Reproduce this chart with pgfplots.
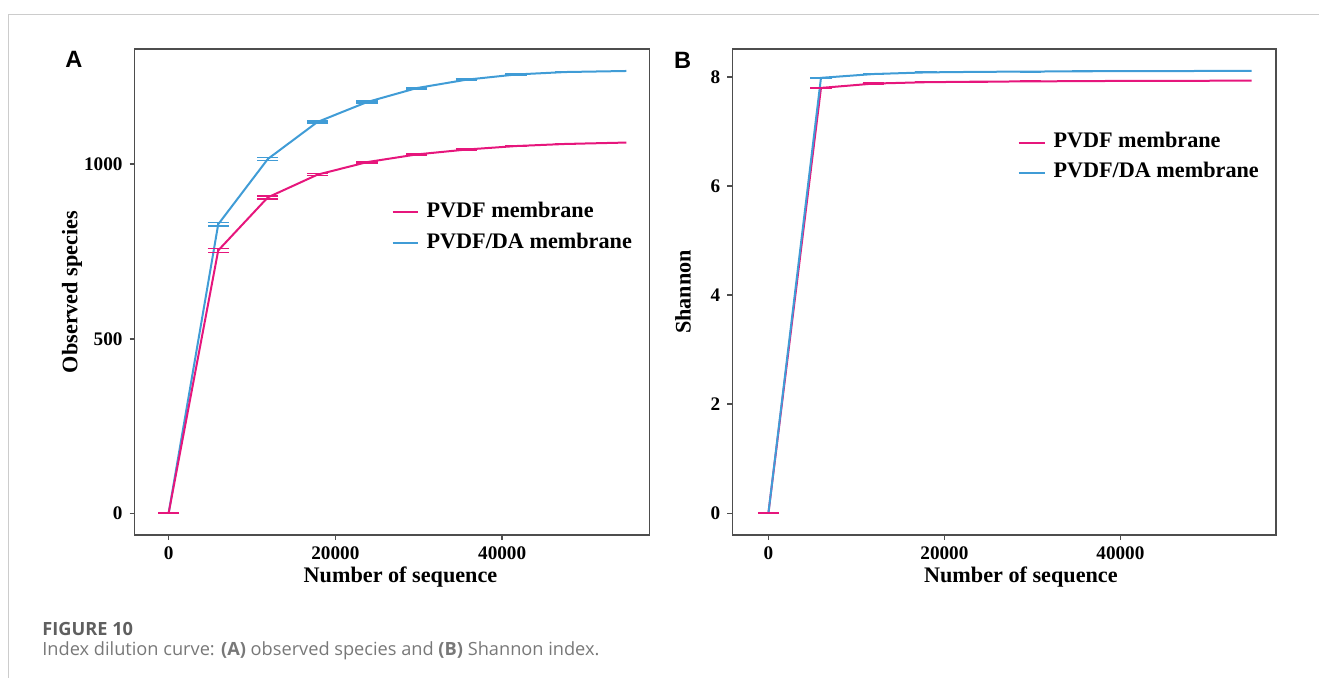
\documentclass[border=0pt]{standalone}
\usepackage{pgfplots}
\pgfplotsset{compat=1.18}
\usepackage{pgfplotstable}
\usepackage{fontspec}
\setmainfont{Liberation Serif}
\newfontfamily\sansbold{Liberation Sans}
\newfontfamily\capfont{Open Sans}
\definecolor{pvdf}{RGB}{230,22,124}
\definecolor{pvdfda}{RGB}{64,156,214}
\definecolor{axgray}{RGB}{77,77,77}
\definecolor{framegray}{RGB}{204,204,204}
\definecolor{capgray}{RGB}{120,120,120}
\definecolor{capdark}{RGB}{95,95,95}

% Panel A: observed species
\pgfplotstableread{
x y e
0 0 0.5
5950 753 6
11900 905 4
17850 970 3
23800 1006 2
29750 1028 1.5
35700 1042 1
41650 1052 1
47600 1058 1
54900 1062 0
}\Apink
\pgfplotstableread{
x y e
0 0 0.5
5950 828 5
11900 1015 4
17850 1121 3
23800 1178 2.5
29750 1218 2
35700 1242 1.5
41650 1257 1
47600 1264 1
54900 1267 0
}\Ablue
% Panel B: Shannon
\pgfplotstableread{
x y e
0 0 0.003
5975 7.80 0.012
11950 7.88 0.008
17900 7.905 0.006
23800 7.915 0.005
29750 7.92 0.004
35700 7.925 0.004
41650 7.93 0.004
47600 7.93 0.004
54900 7.935 0
}\Bpink
\pgfplotstableread{
x y e
0 0 0.003
5975 7.985 0.010
11950 8.055 0.008
17900 8.085 0.006
23800 8.095 0.005
29750 8.10 0.004
35700 8.105 0.004
41650 8.11 0.004
47600 8.11 0.004
54900 8.115 0
}\Bblue

\pgfplotsset{
  panel/.style={
    scale only axis,
    anchor=south west,
    axis line style={axgray, line width=0.75pt},
    tick style={axgray, line width=0.75pt},
    major tick length=2.5pt,
    tick align=outside,
    xtick pos=left, ytick pos=left,
    scaled x ticks=false, scaled y ticks=false,
    tick label style={font=\fontsize{9.6}{10}\selectfont\bfseries, black},
    /pgf/number format/assume math mode=true,
    /pgf/number format/1000 sep={},
    label style={font=\fontsize{11.1}{12}\selectfont\bfseries, black},
    legend style={draw=none, fill=none, inner sep=0pt, anchor=west,
      font=\fontsize{11.1}{12}\selectfont\bfseries,
      nodes={inner xsep=2pt, inner ysep=0pt, text height=7.5pt, text depth=2.5pt},
      column sep=2pt},
    legend cell align=left,
  },
  pinkline/.style={pvdf, line width=1pt, mark=none},
  blueline/.style={pvdfda, line width=1pt, mark=none},
  ebars/.style={forget plot, draw=none, mark=none,
    skip coords between index={9}{10},
    error bars/.cd, y dir=both, y explicit,
    error bar style={line width=0.75pt, draw=#1, solid},
    error mark options={rotate=90, mark size=5.3pt, line width=0.75pt, draw=#1}},
}

\begin{document}
\begin{tikzpicture}
\path[use as bounding box] (0,0) rectangle (659.5pt,339pt);
% outer frame (top and left)
\draw[framegray, line width=0.5pt] (4.25pt,0pt) -- (4.25pt,331.5pt) -- (659.5pt,331.5pt);

% Panel A
\begin{axis}[panel,
  at={(67.3pt,71.5pt)}, width=257.35pt, height=243pt,
  xmin=-4077, xmax=57638, ymin=-62, ymax=1330,
  xtick={0,20000,40000}, ytick={0,500,1000},
  xlabel={Number of sequence}, ylabel={Observed species},
  xlabel style={at={(axis description cs:0.5166,-0.0864)}, anchor=center},
  ylabel style={at={(axis description cs:-0.1216,0.5)}, anchor=center},
  legend style={at={(axis description cs:0.4985,0.632)}, row sep=5.65pt},
  legend image code/.code={\draw[#1] (0pt,0pt) -- (12.5pt,0pt);},
]
\addlegendimage{pinkline}
\addlegendimage{blueline}
\addplot[blueline, forget plot] table[x=x, y=y] {\Ablue};
\addplot[ebars=pvdfda] table[x=x, y=y, y error=e] {\Ablue};
\addplot[pinkline, forget plot] table[x=x, y=y] {\Apink};
\addplot[ebars=pvdf] table[x=x, y=y, y error=e] {\Apink};
\legend{PVDF membrane, PVDF/DA membrane}
\end{axis}

% Panel B
\begin{axis}[panel,
  at={(366.15pt,71.5pt)}, width=271.75pt, height=243pt,
  xmin=-4102, xmax=57659, ymin=-0.398, ymax=8.514,
  xtick={0,20000,40000}, ytick={0,2,4,6,8},
  xlabel={Number of sequence}, ylabel={Shannon},
  xlabel style={at={(axis description cs:0.531,-0.0864)}, anchor=center},
  ylabel style={at={(axis description cs:-0.0907,0.5)}, anchor=center},
  legend style={at={(axis description cs:0.524,0.776)}, row sep=5pt},
  legend image code/.code={\draw[#1] (0pt,0pt) -- (13pt,0pt);},
]
\addlegendimage{pinkline}
\addlegendimage{blueline}
\addplot[pinkline, forget plot] table[x=x, y=y] {\Bpink};
\addplot[blueline, forget plot] table[x=x, y=y] {\Bblue};
\addplot[skip coords between index={0}{1}, ebars=pvdfda] table[x=x, y=y, y error=e] {\Bblue};
\addplot[ebars=pvdf] table[x=x, y=y, y error=e] {\Bpink};
\legend{PVDF membrane, PVDF/DA membrane}
\end{axis}

% panel letters
\node[font=\sansbold\fontsize{11.8}{12}\selectfont\bfseries] at (37pt,309.2pt) {A};
\node[font=\sansbold\fontsize{11.8}{12}\selectfont\bfseries] at (341.3pt,309pt) {B};

% caption
\node[anchor=west, inner sep=0pt, font=\capfont\fontsize{9.1}{10}\selectfont\bfseries, text=capdark] at (21pt,24.5pt) {FIGURE 10};
\node[anchor=west, inner sep=0pt, font=\capfont\fontsize{9.1}{10}\selectfont, text=capgray] at (21pt,13.5pt) {Index dilution curve: \textbf{(A)} observed species and \textbf{(B)} Shannon index.};
\end{tikzpicture}
\end{document}
